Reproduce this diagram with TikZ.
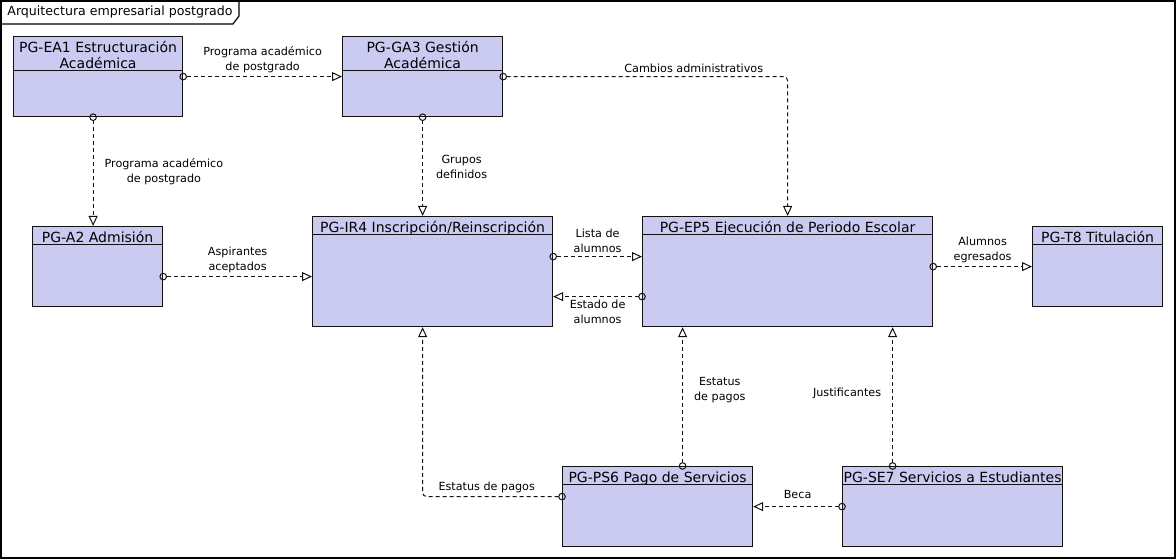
\documentclass[tikz,border=0pt]{standalone}
\usepackage{fontspec}
\setmainfont{DejaVu Sans}
\usetikzlibrary{arrows.meta, positioning}
\definecolor{fillModulo}{HTML}{CBCBF1}
\definecolor{lineDark}{HTML}{111111}

\tikzset{
  modulo/.style={draw=lineDark, fill=fillModulo, line width=0.6pt, anchor=north west, inner sep=0pt},
  titulo/.style={anchor=north, align=center, font=\fontsize{7}{8}\selectfont,
                 text height=8pt, text depth=1pt, inner ysep=0pt, inner xsep=2pt},
  dosLineas/.style={text height=16pt},
  flujo/.style={draw=lineDark, line width=0.5pt, dash pattern=on 2pt off 1.5pt, rounded corners=2pt,
                shorten <=-1.9pt,
                {Circle[open,length=3.8pt,width=3.8pt]}-{Triangle[open,length=5pt,width=4.5pt]}},
  etiq/.style={font=\fontsize{5.6}{7.5}\selectfont, align=center, inner sep=1.5pt},
}

\begin{document}
\begin{tikzpicture}[x=0.5pt, y=-0.5pt]
  \useasboundingbox (0,0) rectangle (1176,560);

  % marco del diagrama
  \draw[line width=0.8pt] (1,1) rectangle (1175,558);
  \draw[line width=0.6pt] (1,24) -- (233,24) -- (239,16) -- (239,1);
  \node[anchor=west, font=\fontsize{6.3}{7}\selectfont, inner sep=0pt] (marco) at (7,12) {Arquitectura empresarial postgrado};

  % modulos
  \node[modulo, minimum width=84.5pt, minimum height=40pt] (ea1) at (13,36) {};
  \node[modulo, minimum width=80pt, minimum height=40pt] (ga3) at (342,36) {};
  \node[modulo, minimum width=65pt, minimum height=40pt] (a2) at (32,226) {};
  \node[modulo, minimum width=120pt, minimum height=55pt] (ir4) at (312,216) {};
  \node[modulo, minimum width=145pt, minimum height=55pt] (ep5) at (642,216) {};
  \node[modulo, minimum width=65pt, minimum height=40pt] (t8) at (1032,226) {};
  \node[modulo, minimum width=95pt, minimum height=40pt] (ps6) at (562,466) {};
  \node[modulo, minimum width=110pt, minimum height=40pt] (se7) at (842,466) {};

  % titulos y compartimentos
  \node[titulo, dosLineas] (ea1t) at (ea1.north) {PG-EA1 Estructuración\\Académica};
  \node[titulo, dosLineas] (ga3t) at (ga3.north) {PG-GA3 Gestión\\Académica};
  \node[titulo] (a2t) at (a2.north) {PG-A2 Admisión};
  \node[titulo] (ir4t) at (ir4.north) {PG-IR4 Inscripción/Reinscripción};
  \node[titulo] (ep5t) at (ep5.north) {PG-EP5 Ejecución de Periodo Escolar};
  \node[titulo] (t8t) at (t8.north) {PG-T8 Titulación};
  \node[titulo] (ps6t) at (ps6.north) {PG-PS6 Pago de Servicios};
  \node[titulo] (se7t) at (se7.north) {PG-SE7 Servicios a Estudiantes};
  \foreach \m in {ea1, ga3, a2, ir4, ep5, t8, ps6, se7}
    \draw[line width=0.5pt, lineDark] (\m.west |- \m t.south) -- (\m.east |- \m t.south);

  % flujos
  \draw[flujo] (ea1.east) -- (ga3.west)
    node[etiq, midway, above] {Programa académico\\de postgrado};
  \draw[flujo] ([xshift=-2.5pt]ea1.south) -- ([xshift=-2.5pt]ea1.south |- a2.north)
    node[etiq, midway, right=4pt] {Programa académico\\de postgrado};
  \draw[flujo] (ga3.east) -| (ep5.north)
    node[etiq, pos=0.335, above] {Cambios administrativos};
  \draw[flujo] (ga3.south) -- (ga3.south |- ir4.north)
    node[etiq, midway, right=5pt] {Grupos\\definidos};
  \draw[flujo] ([yshift=-5pt]a2.east) -- ([yshift=-5pt]a2.east -| ir4.west)
    node[etiq, midway, above] {Aspirantes\\aceptados};
  \draw[flujo] ([yshift=7.5pt]ir4.east) -- ([yshift=7.5pt]ir4.east -| ep5.west)
    node[etiq, midway, above] {Lista de\\alumnos};
  \draw[flujo] ([yshift=-12.5pt]ep5.west) -- ([yshift=-12.5pt]ep5.west -| ir4.east)
    node[etiq, midway, below] {Estado de\\alumnos};
  \draw[flujo] (ep5.east |- t8.west) -- (t8.west)
    node[etiq, midway, above] {Alumnos\\egresados};
  \draw[flujo] ([xshift=12.5pt]ps6.north) -- ([xshift=12.5pt]ps6.north |- ep5.south)
    node[etiq, pos=0.55, right=4pt] {Estatus\\de pagos};
  \draw[flujo] ([xshift=-30pt]se7.north) -- ([xshift=-30pt]se7.north |- ep5.south)
    node[etiq, pos=0.52, left=4pt] {Justificantes};
  \draw[flujo] ([yshift=5pt]ps6.west) -| ([xshift=-5pt]ir4.south)
    node[etiq, pos=0.27, above] {Estatus de pagos};
  \draw[flujo] (se7.west) -- (ps6.east)
    node[etiq, midway, above=2pt] {Beca};
\end{tikzpicture}
\end{document}
